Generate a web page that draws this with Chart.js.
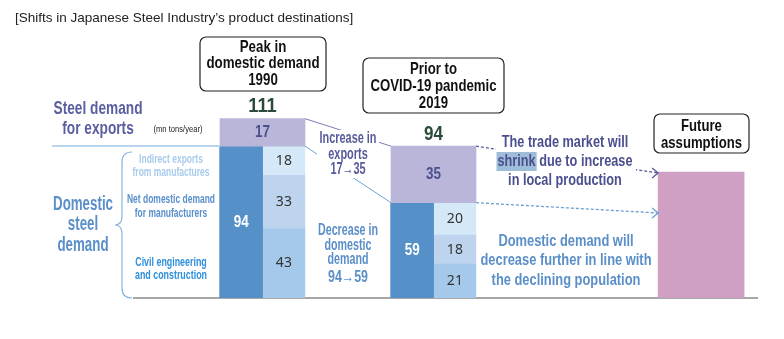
<!DOCTYPE html>
<html>
<head>
<meta charset="utf-8">
<script src="https://cdn.jsdelivr.net/npm/chart.js@4.4.1/dist/chart.umd.min.js"></script>
<style>
  html, body { margin: 0; padding: 0; background: #fff; }
  #wrap { width: 784px; height: 339px; position: relative; }
</style>
</head>
<body>
<div id="wrap"><canvas id="grafico" width="784" height="339"></canvas></div>
<script>
// ************************* DATOS *************************
const periods = ["1990", "2019", "Future"];
const exportDemand = [17, 35];
const domesticDemand = [94, 59];
const indirectExports = [18, 20];
const netManufacturers = [33, 18];
const civilConstruction = [43, 21];
const totalDemand = [111, 94];
const futureDemand = [78];

// posición de cada periodo en el eje x (unidades = ancho de barra)
const slotX = [0, 2, 5.13];

// fuente estrecha simulada: Liberation Sans comprimida en horizontal
const COND = "'Liberation Sans', Arial, sans-serif";
const NUM = "'Noto Sans', 'Open Sans', sans-serif";

const colores = {
  exports: "#b9b6d9",
  domestic: "#5590c8",
  indirect: "#d4e8f8",
  net: "#bdd3ee",
  civil: "#a4c9eb",
  future: "#cf9fc4",
};

// ************************* BARRAS *************************
function barras(vals, offset, base) {
  return vals.map((v, i) => {
    let lo = base ? base[i] : 0;
    return { x: slotX[i] + offset, y: [lo, lo + v] };
  });
}

const baseNet = civilConstruction;
const baseIndirect = civilConstruction.map((v, i) => v + netManufacturers[i]);

const datasets = [
  { label: "exports", data: barras(exportDemand, 0, domesticDemand), backgroundColor: colores.exports, barThickness: 85, txt: "#4b4f8e", bold: true },
  { label: "domestic", data: barras(domesticDemand, -0.25), backgroundColor: colores.domestic, barThickness: 43, txt: "#ffffff", bold: true },
  { label: "civil", data: barras(civilConstruction, 0.25), backgroundColor: colores.civil, barThickness: 42, txt: "#333333" },
  { label: "net", data: barras(netManufacturers, 0.25, baseNet), backgroundColor: colores.net, barThickness: 42, txt: "#333333" },
  { label: "indirect", data: barras(indirectExports, 0.25, baseIndirect), backgroundColor: colores.indirect, barThickness: 42, txt: "#333333" },
  { label: "future", data: futureDemand.map((v) => ({ x: slotX[2], y: [0, v] })), backgroundColor: colores.future, barThickness: 86, noLabel: true },
];

// ************************* DIBUJO EXTRA *************************
/**
 * Escribe varias líneas centradas. Si se da un ancho, el bloque se
 * comprime en horizontal para que la línea más larga ocupe ese ancho.
 */
function lineas(ctx, lines, x, y, lh, font, color, ancho) {
  ctx.font = font;
  ctx.fillStyle = color;
  ctx.textAlign = "center";
  ctx.textBaseline = "middle";
  let sx = 1;
  if (ancho) {
    const maxW = Math.max(...lines.map((l) => ctx.measureText(l).width));
    sx = ancho / maxW;
  }
  lines.forEach((l, i) => {
    ctx.save();
    ctx.translate(x, y + i * lh);
    ctx.scale(sx, 1);
    ctx.fillText(l, 0, 0);
    ctx.restore();
  });
  return sx;
}

function caja(ctx, x, y, w, h) {
  ctx.beginPath();
  ctx.roundRect(x, y, w, h, 6);
  ctx.fillStyle = "#fff";
  ctx.fill();
  ctx.strokeStyle = "#222";
  ctx.lineWidth = 1.2;
  ctx.stroke();
}

function flecha(ctx, x1, y1, x2, y2, color) {
  ctx.save();
  ctx.strokeStyle = color;
  ctx.lineWidth = 1.3;
  ctx.setLineDash([3, 2]);
  ctx.beginPath();
  ctx.moveTo(x1, y1);
  ctx.lineTo(x2, y2);
  ctx.stroke();
  ctx.setLineDash([]);
  ctx.beginPath();
  ctx.moveTo(x2 - 6, y2 - 5);
  ctx.lineTo(x2, y2);
  ctx.lineTo(x2 - 6, y2 + 5);
  ctx.stroke();
  ctx.restore();
}

const extras = {
  id: "extras",
  beforeDatasetsDraw(chart) {
    const ctx = chart.ctx;
    const y0 = chart.scales.y.getPixelForValue(0);
    ctx.save();
    // línea base
    ctx.strokeStyle = "#8a8a8a";
    ctx.lineWidth = 1.5;
    ctx.beginPath();
    ctx.moveTo(133, y0);
    ctx.lineTo(758, y0);
    ctx.stroke();
    ctx.restore();
  },
  afterDatasetsDraw(chart) {
    const ctx = chart.ctx;
    const ex = chart.getDatasetMeta(0).data;
    ctx.save();

    // etiquetas dentro de las barras
    chart.data.datasets.forEach((ds, i) => {
      if (ds.noLabel) return;
      chart.getDatasetMeta(i).data.forEach((bar, j) => {
        const v = ds.data[j].y[1] - ds.data[j].y[0];
        const cy = (bar.y + bar.base) / 2;
        if (ds.bold) {
          lineas(ctx, [String(v)], bar.x, cy, 0, "bold 17px " + COND, ds.txt, 15);
        } else {
          lineas(ctx, [String(v)], bar.x, cy, 0, "14px " + NUM, ds.txt);
        }
      });
    });

    // totales
    totalDemand.forEach((t, i) => {
      lineas(ctx, [String(t)], ex[i].x, ex[i].y - 12, 0, "bold 20px " + COND, "#2b4a3a", String(t).length * 9.5);
    });

    // conectores 1990 -> 2019
    const a = ex[0], b = ex[1];
    ctx.lineWidth = 1;
    ctx.strokeStyle = "#7a7cb8";
    ctx.beginPath();
    ctx.moveTo(a.x + a.width / 2, a.y);
    ctx.lineTo(b.x - b.width / 2, b.y);
    ctx.stroke();
    ctx.strokeStyle = "#6ea3d4";
    ctx.beginPath();
    ctx.moveTo(a.x + a.width / 2, a.base);
    ctx.lineTo(b.x - b.width / 2, b.base);
    ctx.stroke();

    // flechas hacia el futuro
    const fut = chart.getDatasetMeta(5).data[0];
    const fx = fut.x - fut.width / 2;
    flecha(ctx, b.x + b.width / 2, b.y, fx, fut.y + 1, "#555a9c");
    flecha(ctx, b.x + b.width / 2, b.base, fx, fut.y + 41, "#6a9fd2");

    // fondos blancos de textos
    ctx.fillStyle = "#fff";
    ctx.fillRect(317, 130, 62, 48);
    ctx.fillRect(496, 132, 140, 58);

    lineas(ctx, ["Increase in", "exports", "17\u219235"], 348, 139, 15.5, "bold 16px " + COND, "#575a9b", 57);
    lineas(ctx, ["Decrease in", "domestic", "demand"], 348, 231, 14.5, "bold 16px " + COND, "#5a8fc8", 60);
    lineas(ctx, ["94\u219259"], 348, 278, 0, "bold 16px " + COND, "#5a8fc8", 40);

    // mercado de comercio
    const l2 = "shrink due to increase";
    ctx.font = "bold 17px " + COND;
    const sx = 135 / ctx.measureText(l2).width;
    const w2 = 135;
    const ws = ctx.measureText("shrink").width * sx;
    ctx.fillStyle = "#9fbdd8";
    ctx.fillRect(565 - w2 / 2 - 1, 152, ws + 2, 19);
    lineas(ctx, ["The trade market will", l2, "in local production"], 565, 142, 19, "bold 17px " + COND, "#4b4f8e", 135);

    lineas(ctx, ["Domestic demand will", "decrease further in line with", "the declining population"], 566, 241, 19.5, "bold 17px " + COND, "#5a8fc8", 171);

    // textos izquierda
    lineas(ctx, ["Steel demand", "for exports"], 98, 109, 20, "bold 19px " + COND, "#5b5ea0", 89);
    lineas(ctx, ["(mn tons/year)"], 178, 130, 0, "9px " + COND, "#222", 49);
    ctx.strokeStyle = "#b9d5ee";
    ctx.lineWidth = 2;
    ctx.beginPath();
    ctx.moveTo(52, 146);
    ctx.lineTo(220, 146);
    ctx.stroke();

    lineas(ctx, ["Domestic", "steel", "demand"], 83, 204, 20.5, "bold 20px " + COND, "#5a8fc8", 60);
    lineas(ctx, ["Indirect exports", "from manufactures"], 171, 160, 12.5, "bold 12.5px " + COND, "#a9cbec", 77);
    lineas(ctx, ["Net domestic demand", "for manufacturers"], 171, 200, 13.5, "bold 12.5px " + COND, "#5a8fcc", 88);
    lineas(ctx, ["Civil engineering", "and construction"], 171, 262, 13, "bold 13px " + COND, "#2f8fdc", 72);

    // llave
    ctx.strokeStyle = "#8ab4dc";
    ctx.lineWidth = 1.2;
    ctx.beginPath();
    ctx.moveTo(132, 152);
    ctx.quadraticCurveTo(122, 152, 122, 162);
    ctx.lineTo(122, 216);
    ctx.quadraticCurveTo(122, 225, 115, 225);
    ctx.quadraticCurveTo(122, 225, 122, 234);
    ctx.lineTo(122, 288);
    ctx.quadraticCurveTo(122, 298, 132, 298);
    ctx.stroke();

    // cajas de periodos
    caja(ctx, 200, 37, 126, 54);
    lineas(ctx, ["Peak in", "domestic demand", "1990"], 263, 47, 16.5, "bold 17px " + COND, "#111", 113);
    caja(ctx, 363, 58, 141, 55);
    lineas(ctx, ["Prior to", "COVID-19 pandemic", "2019"], 433.5, 69, 17, "bold 17px " + COND, "#111", 126);
    caja(ctx, 654, 114, 95, 39);
    lineas(ctx, ["Future", "assumptions"], 701.5, 126, 17, "bold 17px " + COND, "#111", 81);

    // título
    ctx.font = "13.5px 'Liberation Sans', Arial, sans-serif";
    ctx.fillStyle = "#222";
    ctx.textAlign = "left";
    ctx.textBaseline = "middle";
    ctx.fillText("[Shifts in Japanese Steel Industry\u2019s product destinations]", 15, 18);

    ctx.restore();
  },
};

// ************************* GRÁFICO *************************
new Chart(document.getElementById("grafico"), {
  type: "bar",
  data: { labels: periods, datasets: datasets },
  plugins: [extras],
  options: {
    responsive: false,
    animation: false,
    layout: { padding: { left: 177, right: 8.5, top: 88, bottom: 41 } },
    datasets: { bar: { grouped: false, borderWidth: 0 } },
    plugins: { legend: { display: false }, tooltip: { enabled: false } },
    scales: {
      x: { type: "linear", min: -1, max: 6, offset: false, display: false },
      y: { min: 0, max: 130, display: false },
    },
  },
});
</script>
</body>
</html>
